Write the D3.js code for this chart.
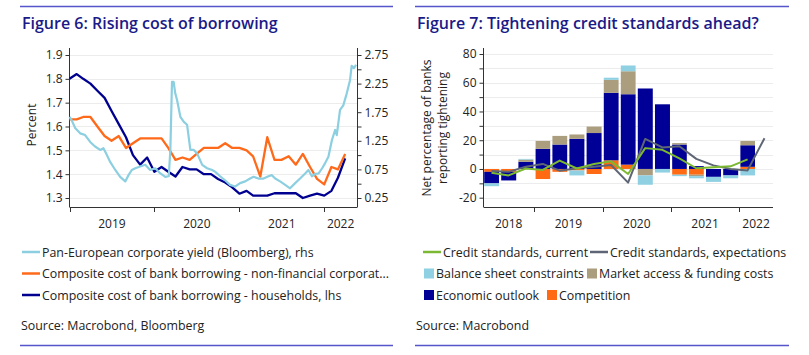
<!DOCTYPE html>
<html><head><meta charset="utf-8">
<script src="https://cdn.jsdelivr.net/npm/d3@7/dist/d3.min.js"></script>
<style>
body{margin:0;background:#fff;}
svg text{font-family:"Open Sans","Noto Sans",sans-serif;fill:#222;}
</style></head><body>
<svg id="c" width="809" height="355"></svg>
<script>
// ---------- Figure 6 data ----------
const monthStart = "2019-01-01";
const monthEnd = "2022-05-01";
const householdRate = [1.80,1.82,1.80,1.78,1.75,1.72,1.665,1.61,1.555,1.48,1.44,1.47,
  1.41,1.43,1.41,1.39,1.43,1.42,1.42,1.40,1.40,1.38,1.365,1.345,
  1.318,1.33,1.31,1.31,1.31,1.32,1.32,1.32,1.32,1.30,1.31,1.318,
  1.31,1.33,1.385,1.466];
const nfcRate = [1.63,1.63,1.64,1.64,1.60,1.56,1.54,1.56,1.51,1.53,1.55,1.55,
  1.55,1.55,1.51,1.46,1.47,1.46,1.485,1.51,1.51,1.51,1.53,1.51,
  1.51,1.50,1.475,1.39,1.555,1.46,1.46,1.475,1.44,1.485,1.43,1.38,
  1.357,1.43,1.42,1.485];
const yieldDates = ["2019-01-01","2019-01-09","2019-01-26","2019-02-16","2019-03-09","2019-03-31","2019-04-21","2019-05-13","2019-05-27","2019-06-11","2019-06-25","2019-07-17","2019-08-07","2019-08-29","2019-09-12","2019-09-26","2019-10-11","2019-11-01","2019-11-23","2019-12-14","2020-01-05","2020-01-27","2020-02-17","2020-03-03","2020-03-10","2020-03-17","2020-03-24","2020-03-31","2020-04-08","2020-04-22","2020-05-07","2020-05-21","2020-06-04","2020-06-19","2020-07-03","2020-07-25","2020-08-15","2020-09-06","2020-09-18","2020-10-10","2020-10-31","2020-11-22","2020-12-13","2021-01-04","2021-01-26","2021-02-16","2021-03-03","2021-03-24","2021-04-15","2021-05-06","2021-05-20","2021-06-04","2021-06-25","2021-07-17","2021-08-07","2021-08-29","2021-09-19","2021-10-11","2021-10-25","2021-11-09","2021-11-23","2021-12-08","2021-12-23","2022-01-05","2022-01-19","2022-02-03","2022-02-17","2022-02-24","2022-03-10","2022-03-24","2022-04-08","2022-04-22","2022-04-29","2022-05-09","2022-05-18"];
const yieldValues = [1.67,1.62,1.47,1.38,1.35,1.23,1.15,1.09,1.12,1.00,0.88,0.74,0.62,0.54,0.65,0.74,0.77,0.80,0.83,0.74,0.77,0.68,0.62,0.63,1.09,2.28,2.28,2.08,1.96,1.67,1.58,1.53,1.09,1.09,1.03,0.83,0.77,0.74,0.71,0.63,0.56,0.48,0.45,0.51,0.54,0.59,0.62,0.59,0.59,0.63,0.65,0.59,0.54,0.48,0.42,0.51,0.59,0.68,0.74,0.63,0.67,0.68,0.77,0.86,0.97,1.26,1.44,1.35,1.79,1.87,2.08,2.31,2.56,2.52,2.58];
const leftTicks = [1.3,1.4,1.5,1.6,1.7,1.8,1.9];
const rightTicks = [0.25,0.5,0.75,1.0,1.25,1.5,1.75,2.0,2.25,2.5,2.75];
const rightLabelled = [0.25,0.75,1.25,1.75,2.25,2.75];
const yearsA = ["2019","2020","2021","2022"];

// ---------- Figure 7 data ----------
const quarters = ["2018-04-01","2018-07-01","2018-10-01","2019-01-01","2019-04-01","2019-07-01","2019-10-01","2020-01-01","2020-04-01","2020-07-01","2020-10-01","2021-01-01","2021-04-01","2021-07-01","2021-10-01","2022-01-01","2022-04-01"];
const competition = [-2,-2,0,-7,-2,-1,-3.5,6,3,0,0,-4,-4,0,0,1.5];
const economic    = [-8,-6,5,14,17,21,25,47,49,56,45,17,2,-5.5,-4.5,15];
const market      = [0,0,1.5,5.5,6,3,4.5,9,16,-4.5,0,1,-1,0,0,3];
const balance     = [-2,0,0.5,0,0,-3.5,0,1.5,4,-6.5,-2.5,-1,-1.5,-3.5,-2,-4.5];
const currentStd  = [-2.6,-4.5,0.3,-0.7,5.8,0.3,3.5,5.3,-3.5,14.5,13.3,7.4,0.5,1.2,1.8,6.7];
const expectStd   = [-1.5,-2,1.6,3.5,-1.2,0.5,1.6,2.8,-9.5,20.9,15,15.8,7,2.5,0,-1,21.4];
const barTicks = [-20,-10,0,10,20,30,40,50,60,70,80];
const barLabelled = [-20,0,20,40,60,80];
const yearsB = ["2018","2019","2020","2021","2022"];

// ---------- drawing ----------
const svg = d3.select("#c");
const P = d3.utcParse("%Y-%m-%d");
const ruleColor = "#5555cc", titleColor = "#1a1a88", axisColor = "#333", gridColor = "#ececec";
const plotTop = 48, plotBottom = 207;
const legendSize = "12.4px";

function frame(x1, x2, title) {
  svg.append("line").attr("x1", x1).attr("x2", x2).attr("y1", 6.5).attr("y2", 6.5).attr("stroke", ruleColor).attr("stroke-width", 1.3);
  svg.append("line").attr("x1", x1).attr("x2", x2).attr("y1", 345.5).attr("y2", 345.5).attr("stroke", ruleColor).attr("stroke-width", 1.3);
  svg.append("text").attr("x", x1 + 2).attr("y", 29).text(title)
    .style("fill", titleColor).style("font-size", "16px").style("font-weight", 600);
}
function yearAxis(x, years, d0, d1, xl, xr) {
  const g = svg.append("g");
  g.append("line").attr("x1", xl).attr("x2", xr).attr("y1", plotBottom + .5).attr("y2", plotBottom + .5).attr("stroke", axisColor);
  years.forEach(y => {
    const ys = P(y + "-01-01"), ye = P((+y + 1) + "-01-01");
    if (ys >= d0) g.append("line").attr("x1", Math.round(x(ys)) + .5).attr("x2", Math.round(x(ys)) + .5).attr("y1", plotBottom).attr("y2", plotBottom + 5).attr("stroke", axisColor);
    const a = ys < d0 ? d0 : ys, b = ye > d1 ? d1 : ye;
    g.append("text").attr("x", (x(a) + x(b)) / 2).attr("y", plotBottom + 21).attr("text-anchor", "middle").style("font-size", "12px").text(y);
  });
}

// ===== Figure 6 =====
frame(20, 393, "Figure 6: Rising cost of borrowing");
const dA0 = P(monthStart), dA1 = P("2022-05-22");
const xA = d3.scaleUtc().domain([dA0, dA1]).range([69.5, 357]);
const yL = d3.scaleLinear().domain([1.3, 1.9]).range([198, 55]);
const yR = d3.scaleLinear().domain([0.25, 2.75]).range([198, 55]);
leftTicks.forEach(t => svg.append("line").attr("x1", 70).attr("x2", 357).attr("y1", Math.round(yL(t)) + .5).attr("y2", Math.round(yL(t)) + .5).attr("stroke", gridColor));
const gLA = svg.append("g").attr("transform", "translate(69.5,0)")
  .call(d3.axisLeft(yL).tickValues(leftTicks).tickSize(4).tickFormat(d3.format(".1f")));
gLA.select(".domain").remove();
gLA.selectAll("text").style("font-size", "12px").attr("x", -7);
gLA.selectAll("line").attr("stroke", axisColor);
svg.append("line").attr("x1", 69.5).attr("x2", 69.5).attr("y1", plotTop).attr("y2", plotBottom).attr("stroke", axisColor);
const gRA = svg.append("g").attr("transform", "translate(357.5,0)")
  .call(d3.axisRight(yR).tickValues(rightTicks).tickSize(4).tickFormat(d => rightLabelled.includes(d) ? d3.format(".2f")(d) : ""));
gRA.select(".domain").remove();
gRA.selectAll("text").style("font-size", "12px").attr("x", 7);
gRA.selectAll("line").attr("stroke", axisColor);
svg.append("line").attr("x1", 357.5).attr("x2", 357.5).attr("y1", plotTop).attr("y2", plotBottom).attr("stroke", axisColor);
yearAxis(xA, yearsA, dA0, dA1, 69.5, 357.5);
svg.append("text").attr("transform", "translate(36,125) rotate(-90)").attr("text-anchor", "middle").style("font-size", "12px").text("Percent");

const months = d3.utcMonth.range(P(monthStart), P(monthEnd), 1).slice(0, householdRate.length);
const lineA = d3.line().x(d => xA(d[0])).y(d => d[1]);
const colA = {yield: "#8ccfe0", nfc: "#ff6a1a", hh: "#000090"};
svg.append("path").datum(months.map((m, i) => [m, yL(householdRate[i])])).attr("d", lineA).attr("fill", "none").attr("stroke", colA.hh).attr("stroke-width", 2.3).attr("stroke-linejoin", "round");
svg.append("path").datum(months.map((m, i) => [m, yL(nfcRate[i])])).attr("d", lineA).attr("fill", "none").attr("stroke", colA.nfc).attr("stroke-width", 2.3).attr("stroke-linejoin", "round");
svg.append("path").datum(yieldDates.map((d, i) => [P(d), yR(yieldValues[i])])).attr("d", lineA).attr("fill", "none").attr("stroke", colA.yield).attr("stroke-width", 2.2).attr("stroke-linejoin", "round");

const legA = [["Pan-European corporate yield (Bloomberg), rhs", colA.yield],
  ["Composite cost of bank borrowing - non-financial corporat...", colA.nfc],
  ["Composite cost of bank borrowing - households, lhs", colA.hh]];
legA.forEach((l, i) => {
  const y = 252 + i * 21.5;
  svg.append("line").attr("x1", 22).attr("x2", 40).attr("y1", y).attr("y2", y).attr("stroke", l[1]).attr("stroke-width", 2.5);
  svg.append("text").attr("x", 42).attr("y", y + 4.5).style("font-size", legendSize).text(l[0]);
});
svg.append("text").attr("x", 21).attr("y", 330).style("font-size", legendSize).text("Source: Macrobond, Bloomberg");

// ===== Figure 7 =====
frame(415, 789, "Figure 7: Tightening credit standards ahead?");
const qd = quarters.map(P);
const dB0 = qd[0], dB1 = P("2022-07-01");
const xB = d3.scaleUtc().domain([dB0, dB1]).range([483, 773]);
const yB = d3.scaleLinear().domain([-20, 80]).range([197.7, 54]);
barTicks.forEach(t => svg.append("line").attr("x1", 484).attr("x2", 773).attr("y1", Math.round(yB(t)) + .5).attr("y2", Math.round(yB(t)) + .5).attr("stroke", gridColor));
const gBA = svg.append("g").attr("transform", "translate(483.5,0)")
  .call(d3.axisLeft(yB).tickValues(barTicks).tickSize(4).tickFormat(d => barLabelled.includes(d) ? d : ""));
gBA.select(".domain").remove();
gBA.selectAll("text").style("font-size", "12px").attr("x", -7);
gBA.selectAll("line").attr("stroke", axisColor);
svg.append("line").attr("x1", 483.5).attr("x2", 483.5).attr("y1", plotTop).attr("y2", plotBottom).attr("stroke", axisColor);
yearAxis(xB, yearsB, dB0, dB1, 483.5, 773);
svg.append("text").attr("transform", "translate(431,128) rotate(-90)").attr("text-anchor", "middle").style("font-size", "12px").text("Net percentage of banks");
svg.append("text").attr("transform", "translate(447,128) rotate(-90)").attr("text-anchor", "middle").style("font-size", "12px").text("reporting tightening");

const colB = {competition: "#ff6a13", economic: "#000096", market: "#ab9e7e", balance: "#8fd0e3"};
const rows = competition.map((c, i) => ({date: qd[i], end: qd[i + 1], competition: c, economic: economic[i], market: market[i], balance: balance[i]}));
const stack = d3.stack().keys(["competition", "economic", "market", "balance"]).offset(d3.stackOffsetDiverging)(rows);
stack.forEach(s => {
  svg.append("g").selectAll("rect").data(s).join("rect")
    .attr("x", d => xB(d.data.date) + 1.2)
    .attr("width", d => xB(d.data.end) - xB(d.data.date) - 2.2)
    .attr("y", d => yB(Math.max(d[0], d[1])))
    .attr("height", d => Math.abs(yB(d[0]) - yB(d[1])))
    .attr("fill", colB[s.key]);
});
const mid = i => new Date((qd[i].getTime() + (i + 1 < qd.length ? qd[i + 1] : dB1).getTime()) / 2);
const lineB = d3.line().x(d => xB(d[0])).y(d => yB(d[1]));
svg.append("path").datum(expectStd.map((v, i) => [mid(i), v])).attr("d", lineB).attr("fill", "none").attr("stroke", "#5e6675").attr("stroke-width", 2).attr("stroke-linejoin", "round");
svg.append("path").datum(currentStd.map((v, i) => [mid(i), v])).attr("d", lineB).attr("fill", "none").attr("stroke", "#7cb832").attr("stroke-width", 2).attr("stroke-linejoin", "round");

const legB = [
  [423, 252, "line", "#7cb832", "Credit standards, current"],
  [590, 252, "line", "#5e6675", "Credit standards, expectations"],
  [424, 273.5, "sq", colB.balance, "Balance sheet constraints"],
  [587, 273.5, "sq", colB.market, "Market access & funding costs"],
  [424, 295, "sq", colB.economic, "Economic outlook"],
  [547, 295, "sq", colB.competition, "Competition"]];
legB.forEach(l => {
  if (l[2] === "line") {
    svg.append("line").attr("x1", l[0]).attr("x2", l[0] + 18).attr("y1", l[1]).attr("y2", l[1]).attr("stroke", l[3]).attr("stroke-width", 2.5);
    svg.append("text").attr("x", l[0] + 20).attr("y", l[1] + 4.5).style("font-size", legendSize).text(l[4]);
  } else {
    svg.append("rect").attr("x", l[0]).attr("y", l[1] - 5).attr("width", 10).attr("height", 10).attr("fill", l[3]);
    svg.append("text").attr("x", l[0] + 12).attr("y", l[1] + 4.5).style("font-size", legendSize).text(l[4]);
  }
});
svg.append("text").attr("x", 416).attr("y", 330).style("font-size", legendSize).text("Source: Macrobond");
</script>
</body></html>
